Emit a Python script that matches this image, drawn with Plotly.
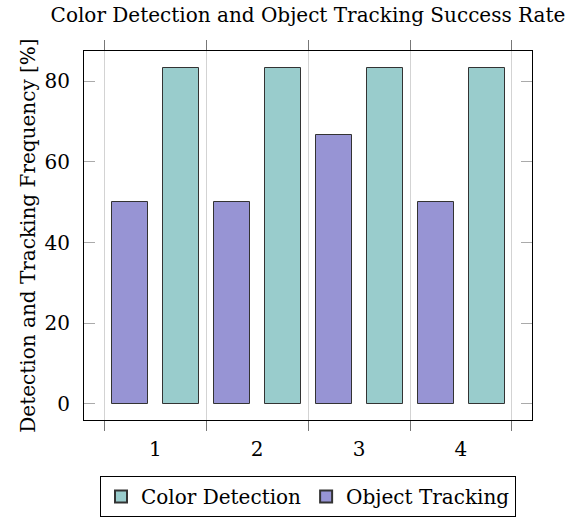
import plotly.graph_objects as go

# Trial index and success rates (%) per method
trials = [1, 2, 3, 4]
color_detection = [83.3, 83.3, 83.3, 83.3]
object_tracking = [50.0, 50.0, 66.7, 50.0]
y_ticks = [0, 20, 40, 60, 80]

FONT = "DejaVu Serif, Liberation Serif, serif"
FS = 20
EDGE = "#333333"

fig = go.Figure()
fig.add_trace(go.Bar(
    x=trials, y=color_detection, name="Color Detection",
    width=0.355, offset=0.075,
    marker=dict(color="#99cccc", line=dict(color=EDGE, width=1)),
))
fig.add_trace(go.Bar(
    x=trials, y=object_tracking, name="Object Tracking",
    width=0.355, offset=-0.425,
    marker=dict(color="#9794d4", line=dict(color=EDGE, width=1)),
))

fig.update_layout(
    width=582, height=519,
    margin=dict(l=84, r=50, t=51, b=99, autoexpand=False),
    paper_bgcolor="white", plot_bgcolor="white",
    font=dict(family=FONT, size=FS, color="black"),
    title=dict(text="Color Detection and Object Tracking Success Rate",
               x=0.5, xref="paper", xanchor="center",
               y=0.971, yref="container", yanchor="middle",
               font=dict(family=FONT, size=FS)),
    showlegend=True,
    legend=dict(orientation="h", x=0.5, xanchor="center",
                y=0.083, yref="container", yanchor="top",
                bordercolor="black", borderwidth=1, font=dict(family=FONT, size=FS),
                itemsizing="constant", traceorder="normal", itemwidth=30,
                tracegroupgap=0),
    bargap=0,
)

fig.update_xaxes(
    range=[0.3, 4.697],
    tickvals=trials, ticktext=[str(t) for t in trials],
    ticks="", showgrid=False, zeroline=False, ticklabelstandoff=11,
    showline=True, linecolor="black", linewidth=1, mirror="ticks",
    minor=dict(tick0=0.5, dtick=1, ticks="outside", ticklen=10, tickcolor="#777777",
               showgrid=True, gridcolor="#d3d3d3", gridwidth=1),
    tickfont=dict(family=FONT, size=FS),
)
fig.update_yaxes(
    range=[-4.0, 87.5],
    tickvals=y_ticks, ticks="inside", ticklen=11, tickcolor="#aaaaaa",
    showgrid=False, zeroline=False, ticklabelstandoff=9,
    showline=True, linecolor="black", linewidth=1, mirror="ticks",
    title=dict(text="Detection and Tracking Frequency [%]", standoff=3,
               font=dict(family=FONT, size=FS)),
    tickfont=dict(family=FONT, size=FS),
)

fig.write_html("out.html")
